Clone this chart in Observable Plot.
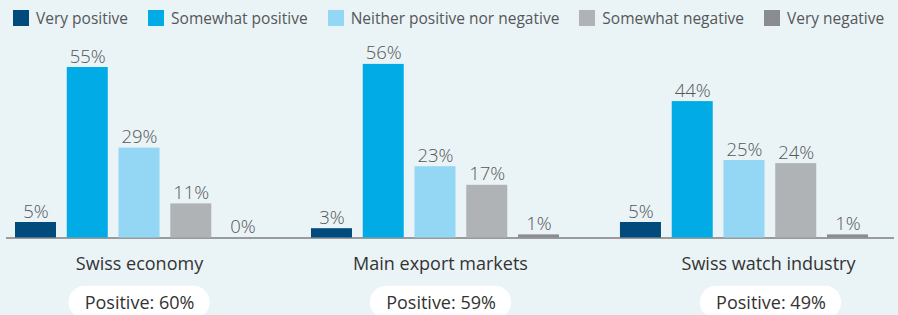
<!DOCTYPE html>
<html>
<head>
<meta charset="utf-8">
<script src="https://cdn.jsdelivr.net/npm/d3@7"></script>
<script src="https://cdn.jsdelivr.net/npm/@observablehq/plot@0.6"></script>
<style>
  html, body { margin: 0; padding: 0; background: #eaf3f6; overflow: hidden; }
  body { width: 898px; height: 315px; font-family: "Open Sans", sans-serif; }
  #legend { height: 40px; display: flex; align-items: flex-start; padding-left: 13px; box-sizing: border-box; padding-top: 9px; white-space: nowrap; }
  .item { display: flex; align-items: center; margin-right: 20px; font-size: 15.5px; color: #555759; line-height: 18px; white-space: nowrap; flex: none; }
  .sw { width: 16px; height: 16px; margin-right: 7px; flex: none; }
  #chart svg { display: block; overflow: visible; }
</style>
</head>
<body>
<div id="legend"></div>
<div id="chart"></div>
<script>
const categories = ["Swiss economy", "Main export markets", "Swiss watch industry"];
const responses = ["Very positive", "Somewhat positive", "Neither positive nor negative", "Somewhat negative", "Very negative"];
const swissEconomy = [5, 55, 29, 11, 0];
const exportMarkets = [3, 56, 23, 17, 1];
const watchIndustry = [5, 44, 25, 24, 1];
const positiveLabels = ["Positive: 60%", "Positive: 59%", "Positive: 49%"];
const colors = ["#004a7c", "#00abe6", "#93d7f4", "#b0b3b5", "#8a8c8f"];

const seriesByCategory = [swissEconomy, exportMarkets, watchIndustry];
const data = [];
categories.forEach((c, i) => responses.forEach((r, j) => data.push({cat: c, resp: r, value: seriesByCategory[i][j]})));

// legend
const legend = document.getElementById("legend");
responses.forEach((r, j) => {
  const it = document.createElement("div");
  it.className = "item";
  it.innerHTML = `<span class="sw" style="background:${colors[j]}"></span><span>${r}</span>`;
  legend.appendChild(it);
});

// per-facet visual offsets (layout only)
const barDx = [0, -6.5, 0];
const labelDx = [0, -1.5, 24];
const pillDx = [0, -1, 26.5];
const ruleInsets = [[-9, -28], [-28, -28], [-28, -26]];

const marks = [];
categories.forEach((c, i) => {
  const sub = data.filter(d => d.cat === c);
  marks.push(
    Plot.ruleY([c], {fx: d => d, y: () => 0, stroke: "#999b9d", strokeWidth: 2,
      insetLeft: ruleInsets[i][0], insetRight: ruleInsets[i][1]}),
    Plot.text(sub, {fx: "cat", x: "resp", y: "value", text: d => d.value + "%",
      dx: barDx[i], dy: -5, lineAnchor: "bottom", fontSize: 18.5, fill: "#555759", fontWeight: 300}),
    Plot.barY(sub, {fx: "cat", x: "resp", y: "value", fill: "resp", dx: barDx[i]}),
    Plot.text([c], {fx: d => d, text: d => d, frameAnchor: "bottom", dx: labelDx[i], dy: 26,
      lineAnchor: "middle", fontSize: 18, fill: "#333"}),
    Plot.rect([c], {fx: d => d, fill: "white", rx: 16,
      insetLeft: 53.5 + pillDx[i], insetRight: 53.5 - pillDx[i],
      insetTop: 234.2, insetBottom: -81}),
    Plot.text([positiveLabels[i]], {fx: () => c, text: d => d, frameAnchor: "bottom", dx: pillDx[i], dy: 65,
      lineAnchor: "middle", fontSize: 18, fill: "#333"})
  );
});

const chart = Plot.plot({
  width: 898,
  height: 275,
  marginLeft: 15,
  marginRight: 30,
  marginTop: 11.5,
  marginBottom: 77.5,
  style: {background: "transparent", fontFamily: "Open Sans, sans-serif", overflow: "visible"},
  fx: {domain: categories, paddingInner: 0.18, paddingOuter: 0, round: false, axis: null},
  x: {domain: responses, paddingInner: 0.208, paddingOuter: 0, round: false, axis: null},
  y: {domain: [0, 60], axis: null},
  color: {domain: responses, range: colors},
  marks
});
document.getElementById("chart").appendChild(chart);
</script>
</body>
</html>
